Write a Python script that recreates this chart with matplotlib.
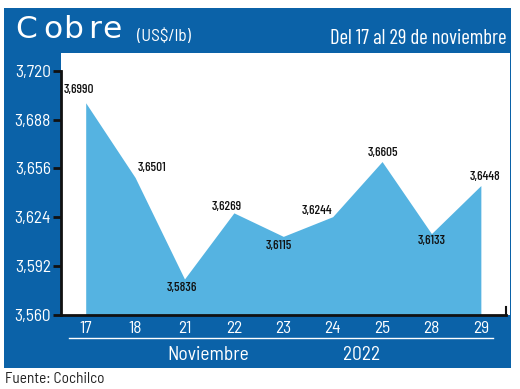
import matplotlib
matplotlib.use('Agg')
import matplotlib.pyplot as plt
from matplotlib.patches import Rectangle
from matplotlib.lines import Line2D

# ----data----
days = ['17', '18', '21', '22', '23', '24', '25', '28', '29']
prices = [3.6990, 3.6501, 3.5836, 3.6269, 3.6115, 3.6244, 3.6605, 3.6133, 3.6448]
yticks = [3.560, 3.592, 3.624, 3.656, 3.688, 3.720]
# label offsets in points (dx, dy)
offsets = [(-5, 9), (12, 7), (-2, -6.5), (-5, 4), (-3, -7), (-11, 4), (1, 6), (0, -5), (3, 6)]

BLUE = '#0b62a8'
FILL = '#55b3e1'
W, H = 520, 389
COND = ['Barlow Condensed', 'Liberation Sans Narrow', 'DejaVu Sans']
SEMI = ['Barlow Semi Condensed', 'Open Sans', 'DejaVu Sans']

fig = plt.figure(figsize=(5.2, 3.89), dpi=100, facecolor='white')

def fx(px):
    return px / W

def fy(py):
    return 1 - py / H

# ----blue frame----
fig.patches.append(Rectangle((fx(4), fy(368)), fx(507), 360 / H, transform=fig.transFigure,
                             facecolor=BLUE, edgecolor='none', zorder=-5))

ax = fig.add_axes([fx(61), fy(315), fx(510 - 61), (315 - 53) / H])
ax.set_zorder(2)
ax.set_facecolor('white')
x = list(range(len(days)))
ax.fill_between(x, prices, 3.56, color=FILL, linewidth=0, zorder=2)

ax.set_xlim(-0.5, 8.59)
ax.set_ylim(3.56, 3.7316)

for s in ['top', 'right']:
    ax.spines[s].set_visible(False)
ax.spines['left'].set_bounds(3.56, 3.72)
ax.spines['bottom'].set_bounds(-0.5, 8.5)
for s in ['left', 'bottom']:
    ax.spines[s].set_linewidth(2)
    ax.spines[s].set_color('#111111')
    ax.spines[s].set_zorder(3)
ax.plot([8.5, 8.5], [3.56, 3.565], color='#111111', lw=1.5, zorder=3, clip_on=False)

ax.set_yticks(yticks)
ax.set_yticklabels([f'{v:.3f}'.replace('.', ',') for v in yticks])
ax.tick_params(axis='y', direction='out', length=5.8, width=2, color='#111111',
               labelcolor='white', labelsize=12.5, pad=1.5)
ax.set_xticks(x)
ax.set_xticklabels(days)
ax.tick_params(axis='x', length=0, labelcolor='white', labelsize=12.5, pad=4)
for lab in ax.get_xticklabels() + ax.get_yticklabels():
    lab.set_family(SEMI)

for i, (v, (dx, dy)) in enumerate(zip(prices, offsets)):
    ax.annotate(f'{v:.4f}'.replace('.', ','), (i, v), xytext=(dx, dy),
                textcoords='offset points', ha='center', va='center',
                fontsize=9.5, color='#111111', zorder=4, family=COND, weight='medium')

# ----header and footer----
# wide letter spacing of the title, one letter at a time
for ch, px in zip('Cobre', [15, 43, 63, 88, 102]):
    fig.text(fx(px), fy(38), ch, color='white', fontsize=22.5, va='baseline',
             family=['DejaVu Sans'])
fig.text(fx(137), fy(41), '(US$/lb)', color='white', fontsize=12.5, va='baseline',
         family=SEMI)
fig.text(fx(506), fy(44), 'Del 17 al 29 de noviembre', color='white', fontsize=15,
         va='baseline', ha='right', family=COND)
fig.lines.append(Line2D([fx(69), fx(493)], [fy(338), fy(338)], transform=fig.transFigure,
                        color='white', lw=1))
fig.text(fx(208), fy(360), 'Noviembre', color='white', fontsize=14, va='baseline', ha='center',
         family=SEMI)
fig.text(fx(362), fy(360), '2022', color='white', fontsize=14, va='baseline', ha='center',
         family=SEMI)
fig.text(fx(5), fy(379), 'Fuente: Cochilco', color='#222222', fontsize=11, va='center',
         family=SEMI)

fig.savefig('out.png', dpi=100, facecolor='white')
